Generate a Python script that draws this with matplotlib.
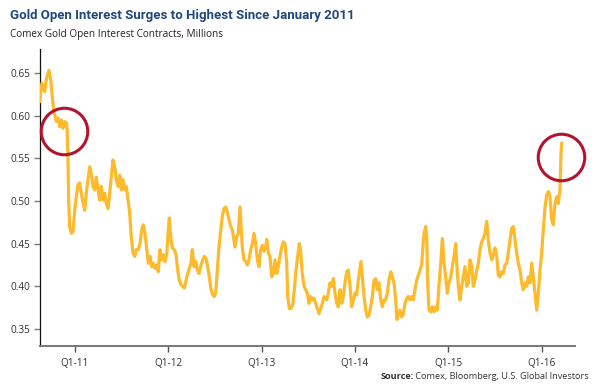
#!/usr/bin/env python3

import matplotlib
matplotlib.use('Agg')
import matplotlib.pyplot as plt

# Comex gold open interest, millions of contracts
# x is the date as a decimal year
dates = [
    2010.620, 2010.646, 2010.675, 2010.692, 2010.721, 2010.740, 2010.753, 2010.767,
    2010.782, 2010.800, 2010.818, 2010.836, 2010.853, 2010.871, 2010.890, 2010.911,
    2010.917, 2010.925, 2010.932, 2010.943, 2010.960, 2010.979, 2010.997, 2011.014,
    2011.032, 2011.050, 2011.068, 2011.086, 2011.104, 2011.121, 2011.139, 2011.158,
    2011.175, 2011.193, 2011.211, 2011.228, 2011.247, 2011.265, 2011.282, 2011.300,
    2011.318, 2011.335, 2011.354, 2011.372, 2011.389, 2011.407, 2011.426, 2011.443,
    2011.461, 2011.479, 2011.496, 2011.514, 2011.533, 2011.550, 2011.568, 2011.586,
    2011.603, 2011.622, 2011.640, 2011.657, 2011.679, 2011.697, 2011.715, 2011.732,
    2011.750, 2011.769, 2011.786, 2011.804, 2011.822, 2011.839, 2011.858, 2011.876,
    2011.893, 2011.911, 2011.929, 2011.947, 2011.965, 2011.983, 2012.000, 2012.011,
    2012.026, 2012.043, 2012.064, 2012.083, 2012.101, 2012.118, 2012.136, 2012.154,
    2012.172, 2012.190, 2012.208, 2012.225, 2012.243, 2012.257, 2012.276, 2012.294,
    2012.311, 2012.329, 2012.347, 2012.369, 2012.386, 2012.404, 2012.422, 2012.440,
    2012.458, 2012.476, 2012.493, 2012.508, 2012.525, 2012.543, 2012.562, 2012.579,
    2012.597, 2012.615, 2012.632, 2012.651, 2012.669, 2012.686, 2012.704, 2012.715,
    2012.733, 2012.750, 2012.769, 2012.779, 2012.793, 2012.811, 2012.830, 2012.847,
    2012.865, 2012.883, 2012.900, 2012.919, 2012.937, 2012.954, 2012.972, 2012.990,
    2013.008, 2013.026, 2013.044, 2013.055, 2013.072, 2013.090, 2013.108, 2013.125,
    2013.144, 2013.162, 2013.179, 2013.197, 2013.215, 2013.233, 2013.251, 2013.269,
    2013.280, 2013.297, 2013.315, 2013.333, 2013.351, 2013.369, 2013.387, 2013.404,
    2013.419, 2013.436, 2013.455, 2013.473, 2013.490, 2013.508, 2013.526, 2013.543,
    2013.562, 2013.580, 2013.597, 2013.615, 2013.634, 2013.651, 2013.669, 2013.698,
    2013.715, 2013.733, 2013.751, 2013.769, 2013.787, 2013.805, 2013.822, 2013.840,
    2013.859, 2013.876, 2013.894, 2013.912, 2013.929, 2013.948, 2013.966, 2013.983,
    2014.001, 2014.019, 2014.036, 2014.055, 2014.065, 2014.079, 2014.098, 2014.116,
    2014.133, 2014.151, 2014.169, 2014.187, 2014.205, 2014.223, 2014.240, 2014.258,
    2014.277, 2014.294, 2014.312, 2014.330, 2014.347, 2014.365, 2014.384, 2014.401,
    2014.419, 2014.437, 2014.451, 2014.465, 2014.483, 2014.502, 2014.519, 2014.537,
    2014.555, 2014.572, 2014.591, 2014.609, 2014.626, 2014.644, 2014.662, 2014.680,
    2014.698, 2014.716, 2014.727, 2014.741, 2014.759, 2014.770, 2014.780, 2014.794,
    2014.812, 2014.830, 2014.848, 2014.866, 2014.883, 2014.901, 2014.920, 2014.937,
    2014.955, 2014.973, 2014.990, 2015.009, 2015.027, 2015.044, 2015.062, 2015.080,
    2015.098, 2015.116, 2015.126, 2015.145, 2015.162, 2015.180, 2015.198, 2015.216,
    2015.234, 2015.252, 2015.269, 2015.287, 2015.306, 2015.323, 2015.341, 2015.359,
    2015.376, 2015.394, 2015.413, 2015.430, 2015.448, 2015.466, 2015.483, 2015.502,
    2015.520, 2015.537, 2015.555, 2015.573, 2015.591, 2015.609, 2015.627, 2015.644,
    2015.662, 2015.681, 2015.698, 2015.716, 2015.734, 2015.751, 2015.770, 2015.788,
    2015.805, 2015.823, 2015.841, 2015.859, 2015.877, 2015.895, 2015.912, 2015.930,
    2015.949, 2015.966, 2015.984, 2016.002, 2016.019, 2016.038, 2016.056, 2016.073,
    2016.091, 2016.109, 2016.127, 2016.145, 2016.163, 2016.180, 2016.198, 2016.209,
    2016.217,
]
open_interest = [
    0.616, 0.638, 0.628, 0.642, 0.653, 0.642, 0.627, 0.610,
    0.601, 0.593, 0.597, 0.587, 0.595, 0.585, 0.593, 0.591,
    0.580, 0.548, 0.501, 0.470, 0.462, 0.464, 0.489, 0.505,
    0.519, 0.521, 0.509, 0.498, 0.489, 0.509, 0.525, 0.540,
    0.532, 0.517, 0.513, 0.528, 0.513, 0.501, 0.517, 0.501,
    0.509, 0.497, 0.491, 0.509, 0.528, 0.548, 0.540, 0.525,
    0.517, 0.530, 0.513, 0.525, 0.513, 0.517, 0.501, 0.486,
    0.458, 0.439, 0.435, 0.443, 0.443, 0.450, 0.466, 0.472,
    0.462, 0.443, 0.427, 0.435, 0.423, 0.427, 0.421, 0.425,
    0.417, 0.443, 0.431, 0.437, 0.429, 0.437, 0.466, 0.480,
    0.458, 0.445, 0.443, 0.437, 0.419, 0.407, 0.402, 0.400,
    0.398, 0.407, 0.415, 0.421, 0.427, 0.443, 0.423, 0.429,
    0.419, 0.415, 0.423, 0.431, 0.435, 0.433, 0.423, 0.411,
    0.396, 0.390, 0.388, 0.392, 0.419, 0.446, 0.466, 0.482,
    0.491, 0.493, 0.487, 0.478, 0.470, 0.466, 0.454, 0.446,
    0.458, 0.462, 0.493, 0.474, 0.446, 0.431, 0.429, 0.425,
    0.431, 0.443, 0.450, 0.462, 0.450, 0.431, 0.423, 0.443,
    0.448, 0.441, 0.446, 0.455, 0.439, 0.435, 0.411, 0.415,
    0.431, 0.415, 0.423, 0.435, 0.446, 0.452, 0.450, 0.427,
    0.388, 0.374, 0.374, 0.378, 0.396, 0.419, 0.435, 0.450,
    0.441, 0.415, 0.400, 0.396, 0.392, 0.380, 0.388, 0.384,
    0.386, 0.380, 0.374, 0.368, 0.374, 0.380, 0.388, 0.384,
    0.392, 0.404, 0.400, 0.409, 0.392, 0.380, 0.376, 0.396,
    0.380, 0.388, 0.404, 0.417, 0.419, 0.400, 0.376, 0.384,
    0.392, 0.390, 0.407, 0.421, 0.429, 0.411, 0.388, 0.372,
    0.364, 0.366, 0.376, 0.388, 0.407, 0.409, 0.396, 0.404,
    0.384, 0.376, 0.384, 0.384, 0.392, 0.407, 0.417, 0.411,
    0.404, 0.384, 0.361, 0.368, 0.372, 0.364, 0.368, 0.380,
    0.386, 0.388, 0.384, 0.388, 0.384, 0.396, 0.407, 0.413,
    0.419, 0.425, 0.443, 0.462, 0.470, 0.458, 0.404, 0.372,
    0.370, 0.376, 0.370, 0.376, 0.372, 0.400, 0.427, 0.456,
    0.427, 0.411, 0.392, 0.404, 0.411, 0.423, 0.435, 0.450,
    0.415, 0.392, 0.384, 0.400, 0.411, 0.423, 0.400, 0.404,
    0.431, 0.423, 0.400, 0.407, 0.419, 0.427, 0.443, 0.452,
    0.456, 0.462, 0.476, 0.454, 0.439, 0.431, 0.437, 0.445,
    0.435, 0.413, 0.411, 0.417, 0.415, 0.425, 0.427, 0.439,
    0.454, 0.468, 0.470, 0.454, 0.439, 0.427, 0.419, 0.404,
    0.396, 0.404, 0.400, 0.411, 0.404, 0.427, 0.411, 0.392,
    0.372, 0.392, 0.419, 0.439, 0.466, 0.493, 0.507, 0.511,
    0.505, 0.478, 0.472, 0.497, 0.505, 0.497, 0.513, 0.556,
    0.568,
]

year_ticks = [2011, 2012, 2013, 2014, 2015, 2016]
year_labels = ['Q1-11', 'Q1-12', 'Q1-13', 'Q1-14', 'Q1-15', 'Q1-16']
value_ticks = [0.35, 0.40, 0.45, 0.50, 0.55, 0.60, 0.65]

# highlighted points: Jan 2011 level and the latest surge
circles_x = [2010.885, 2016.212]
circles_y = [0.582, 0.551]

GOLD = '#FDBA2C'
RED = '#B3142D'
BLUE = '#21487A'

fig = plt.figure(figsize=(6.0, 3.88), dpi=100)
ax = fig.add_axes([40 / 600, 1 - 345.7 / 388, 535 / 600, (345.7 - 49) / 388])

ax.plot(dates, open_interest, color=GOLD, lw=2.3, solid_joinstyle='round',
        solid_capstyle='round', zorder=3)
ax.plot(circles_x, circles_y, 'o', ms=33.5, mfc='none', mec=RED, mew=2.2,
        zorder=4, clip_on=False)

ax.set_xlim(2010.625, 2016.359)
ax.set_ylim(0.3304, 0.678)
ax.set_xticks(year_ticks)
ax.set_xticklabels(year_labels)
ax.set_yticks(value_ticks)
ax.set_yticklabels(['%.2f' % v for v in value_ticks])

for side in ('top', 'right'):
    ax.spines[side].set_visible(False)
ax.spines['left'].set_color('#111111')
ax.spines['left'].set_linewidth(0.9)
ax.spines['bottom'].set_color('#777777')
ax.spines['bottom'].set_linewidth(1.4)

ax.tick_params(axis='y', length=4, width=1.0, color='#777777', pad=3,
               labelsize=7.2, labelcolor='#333333')
ax.tick_params(axis='x', length=4, width=1.0, color='#555555', pad=5,
               labelsize=7.2, labelcolor='#333333')
for lab in ax.get_xticklabels() + ax.get_yticklabels():
    lab.set_family(['Open Sans', 'DejaVu Sans'])

title = fig.text(10 / 600, 1 - 16 / 388, 'Gold Open Interest Surges to Highest Since January 2011',
                 family=['Roboto', 'DejaVu Sans'], weight='bold', size=9.5,
                 color=BLUE, ha='left', va='center')
fig.text(10 / 600, 1 - 34 / 388, 'Comex Gold Open Interest Contracts, Millions',
         family=['Open Sans', 'DejaVu Sans'], size=7.2, color='#222222',
         ha='left', va='center')

src = fig.text(589 / 600, 1 - 376.7 / 388, ' Comex, Bloomberg, U.S. Global Investors',
               family=['Open Sans', 'DejaVu Sans'], size=6.6, color='#333333',
               ha='right', va='center')
fig.canvas.draw()
renderer = fig.canvas.get_renderer()

# squeeze the title to the width it has in the original (condensed face there)
tw = title.get_window_extent(renderer).width
if tw > 345:
    title.set_size(9.5 * 345 / tw)

bb = src.get_window_extent(renderer)
fig.text(bb.x0 / fig.bbox.width, 1 - 376.7 / 388, 'Source:',
         family=['Open Sans', 'DejaVu Sans'], weight='bold', size=6.6, color='#333333',
         ha='right', va='center')

fig.savefig('out.png', dpi=100)
